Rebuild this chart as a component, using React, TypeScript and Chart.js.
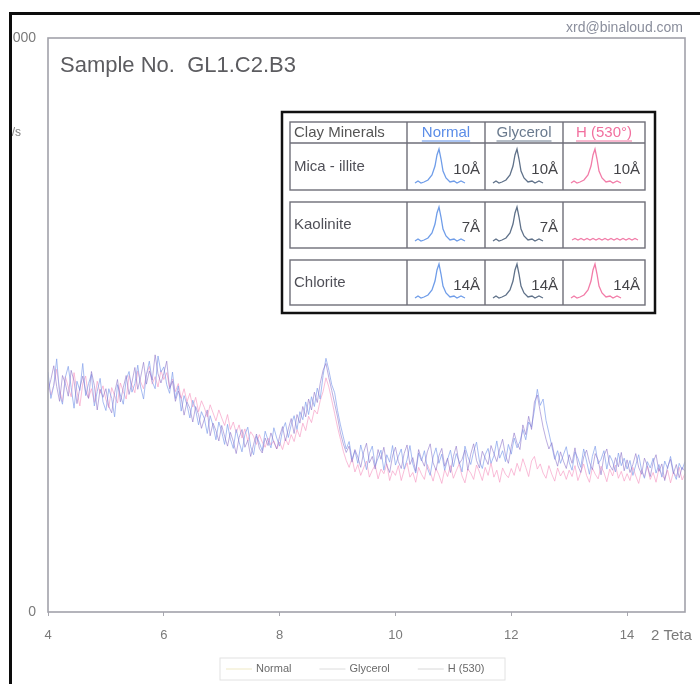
import { useEffect, useRef } from "react";
import { Chart, registerables } from "chart.js";

Chart.register(...registerables);

// 2θ scan: start angle and step (degrees)
const scanStart = 4;
const scanStep = 0.05;

const xTickValues = [4, 6, 8, 10, 12, 14];
const yTickValues = [0, 1000];

const seriesNames = ["Normal", "Glycerol", "H (530)"];

// counts per second (4.00 .. 15.00 by 0.05)
const normalCounts = [
  418, 372, 395, 441, 380, 362, 409, 428, 391, 355, 402, 386, 433, 377, 398, 414, 359, 384, 407, 366,
  351, 389, 372, 340, 396, 378, 362, 405, 419, 383, 398, 430, 392, 371, 414, 437, 401, 389, 446, 418,
  427, 396, 381, 418, 372, 394, 350, 377, 361, 338, 369, 352, 326, 349, 337, 311, 342, 325, 300, 331,
  314, 292, 327, 301, 285, 318, 296, 279, 309, 322, 288, 274, 306, 295, 281, 315, 299, 286, 321, 303,
  289, 317, 330, 304, 326, 342, 318, 349, 335, 366, 344, 375, 358, 390, 371, 412, 442, 421, 396, 382,
  351, 326, 305, 284, 297, 266, 281, 259, 291, 270, 248, 276, 289, 255, 268, 282, 247, 274, 261, 290,
  256, 271, 284, 249, 265, 290, 258, 242, 277, 263, 281, 251, 238, 270, 286, 259, 275, 247, 266, 282,
  253, 276, 262, 244, 289, 271, 257, 280, 296, 263, 250, 274, 285, 259, 272, 298, 268, 281, 262, 292,
  275, 303, 286, 297, 318, 300, 331, 322, 352, 388, 360, 371, 334, 312, 289, 266, 281, 259, 274, 288,
  261, 247, 279, 268, 252, 284, 263, 240, 271, 289, 258, 266, 281, 249, 273, 262, 244, 277, 255, 268,
  249, 264, 238, 256, 274, 247, 233, 262, 251, 268, 242, 257, 235, 263, 250, 271, 244, 231, 259, 248,
  262,
];

const glycerolCounts = [
  386, 405, 429, 393, 367, 412, 398, 376, 421, 402, 363, 390, 411, 384, 372, 419, 395, 352, 388, 374,
  389, 358, 347, 382, 405, 366, 391, 412, 379, 400, 426, 388, 409, 435, 397, 420, 404, 448, 415, 399,
  416, 437, 389, 402, 367, 385, 372, 343, 366, 355, 331, 358, 344, 320, 336, 352, 307, 329, 316, 298,
  325, 306, 289, 313, 297, 276, 304, 318, 287, 299, 271, 292, 310, 285, 277, 303, 290, 312, 296, 284,
  306, 323, 298, 319, 337, 311, 344, 329, 358, 340, 371, 352, 383, 365, 398, 421, 433, 408, 386, 363,
  340, 312, 293, 278, 289, 261, 283, 270, 252, 278, 294, 260, 271, 249, 283, 266, 287, 256, 243, 272,
  287, 262, 250, 276, 291, 257, 269, 245, 283, 266, 254, 279, 293, 260, 247, 272, 285, 254, 268, 243,
  271, 289, 258, 266, 282, 247, 275, 293, 264, 251, 280, 268, 257, 290, 276, 262, 284, 301, 273, 259,
  288, 312, 294, 283, 326, 309, 341, 318, 366, 378, 349, 322, 301, 284, 295, 270, 254, 279, 263, 250,
  274, 259, 286, 255, 243, 270, 282, 261, 248, 276, 265, 239, 272, 284, 256, 247, 269, 253, 278, 246,
  265, 243, 257, 276, 252, 240, 268, 255, 236, 261, 274, 245, 258, 229, 253, 266, 241, 257, 234, 252,
  245,
];

const heatedCounts = [
  401, 378, 395, 423, 388, 366, 410, 392, 375, 417, 384, 359, 398, 411, 373, 389, 365, 402, 381, 394,
  370, 356, 391, 377, 364, 399, 384, 371, 412, 395, 382, 420, 401, 389, 414, 428, 397, 410, 392, 421,
  405, 417, 392, 406, 384, 398, 372, 389, 366, 381, 357, 374, 349, 368, 356, 340, 361, 347, 333, 352,
  338, 325, 344, 318, 331, 312, 326, 303, 319, 298, 314, 306, 292, 309, 296, 287, 303, 291, 298, 284,
  296, 283, 302, 291, 309, 297, 318, 305, 329, 316, 341, 330, 352, 345, 368, 384, 408, 392, 369, 346,
  322, 301, 280, 264, 252, 268, 244, 257, 238, 251, 263, 235, 247, 256, 232, 249, 241, 258, 229, 246,
  238, 255, 229, 247, 260, 235, 243, 226, 252, 240, 231, 257, 244, 228, 250, 239, 224, 248, 236, 255,
  233, 246, 258, 237, 225, 249, 242, 231, 256, 244, 229, 252, 238, 260, 235, 247, 226, 251, 240, 234,
  250, 238, 259, 245, 267, 252, 236, 263, 271, 249, 258, 242, 233, 255, 240, 228, 251, 237, 246, 231,
  247, 236, 255, 229, 243, 258, 238, 226, 251, 240, 232, 254, 243, 227, 249, 237, 256, 233, 245, 228,
  241, 229, 252, 237, 224, 248, 235, 254, 231, 243, 226, 250, 239, 232, 247, 225, 244, 236, 252, 230,
  241,
];

// Clay mineral identification table
const tableHeaders = ["Clay Minerals", "Normal", "Glycerol", "H (530°)"];
const tableMinerals = ["Mica - illite", "Kaolinite", "Chlorite"];
const tableSpacings = ["10Å", "7Å", "14Å"];
const tablePeakPresent = [
  [true, true, true],
  [true, true, false],
  [true, true, true],
];

const lineColors = ["rgba(135,162,236,0.72)", "rgba(138,114,200,0.58)", "rgba(246,158,198,0.68)"];
const legendLineColors = ["#efe9c4", "#dcdcdc", "#d8d8d8"];
const headerColors = ["#555555", "#5b8de8", "#6a7a8e", "#f2709f"];
const miniPeakColors = ["#6f9de9", "#5f7189", "#f27ca8"];

const FONT = "'Liberation Sans', Arial, sans-serif";

function toPoints(values: number[]) {
  return values.map((v, i) => ({ x: scanStart + i * scanStep, y: v }));
}

const miniPeakShape = [
  [0, 0], [3, -2], [6, 0], [9, -1], [13, -3], [17, -8], [20, -17], [22, -28], [24, -34],
  [26, -24], [28, -12], [31, -5], [35, -1], [39, -2], [42, 0], [46, -2], [50, 0],
];

function drawMiniPeak(ctx: CanvasRenderingContext2D, x0: number, y0: number, color: string) {
  ctx.save();
  ctx.strokeStyle = color;
  ctx.lineWidth = 1.3;
  ctx.beginPath();
  miniPeakShape.forEach(([dx, dy], i) => {
    if (i === 0) ctx.moveTo(x0 + dx, y0 + dy);
    else ctx.lineTo(x0 + dx, y0 + dy);
  });
  ctx.stroke();
  ctx.restore();
}

function drawFlatLine(ctx: CanvasRenderingContext2D, x0: number, y0: number, len: number, color: string) {
  ctx.save();
  ctx.strokeStyle = color;
  ctx.lineWidth = 1.2;
  ctx.beginPath();
  for (let d = 0; d <= len; d += 3) {
    const y = y0 + (Math.round(d / 3) % 2 === 0 ? 0 : -1.5);
    if (d === 0) ctx.moveTo(x0 + d, y);
    else ctx.lineTo(x0 + d, y);
  }
  ctx.stroke();
  ctx.restore();
}

const decorPlugin = {
  id: "decor",
  afterDraw(chart: any) {
    const ctx: CanvasRenderingContext2D = chart.ctx;
    const a = chart.chartArea;
    ctx.save();

    // plot frame
    ctx.strokeStyle = "#a2a2aa";
    ctx.lineWidth = 1.6;
    ctx.strokeRect(a.left, a.top, a.right - a.left, a.bottom - a.top);

    // title
    ctx.fillStyle = "#5c5c60";
    ctx.font = `22px ${FONT}`;
    ctx.textBaseline = "middle";
    ctx.textAlign = "left";
    ctx.fillText("Sample No.  GL1.C2.B3", 60, 66);

    // email
    ctx.fillStyle = "#8a8e9c";
    ctx.font = `14px ${FONT}`;
    ctx.textAlign = "right";
    ctx.fillText("xrd@binaloud.com", 683, 28);

    // y unit label (partly clipped by the frame)
    ctx.fillStyle = "#808080";
    ctx.font = `12px ${FONT}`;
    ctx.textAlign = "right";
    ctx.fillText("Counts/s", 21, 133);

    // x axis title
    ctx.fillStyle = "#7a7a7a";
    ctx.font = `15px ${FONT}`;
    ctx.textAlign = "left";
    ctx.fillText("2 Teta", 651, 636);

    // ---------- table ----------
    ctx.fillStyle = "#ffffff";
    ctx.fillRect(282, 112, 373, 201);
    ctx.strokeStyle = "#111111";
    ctx.lineWidth = 2.5;
    ctx.strokeRect(282, 112, 373, 201);

    const cols = [290, 407, 485, 563, 645];
    const boxes = [
      [122, 190],
      [202, 248],
      [260, 305],
    ];
    ctx.strokeStyle = "#6e6e78";
    ctx.lineWidth = 1.4;
    boxes.forEach(([t, b]) => {
      ctx.strokeRect(cols[0], t, cols[4] - cols[0], b - t);
      for (let c = 1; c < 4; c++) {
        ctx.beginPath();
        ctx.moveTo(cols[c], t);
        ctx.lineTo(cols[c], b);
        ctx.stroke();
      }
    });
    ctx.beginPath();
    ctx.moveTo(cols[0], 143);
    ctx.lineTo(cols[4], 143);
    ctx.stroke();

    // headers
    ctx.font = `15px ${FONT}`;
    ctx.textBaseline = "middle";
    tableHeaders.forEach((h, i) => {
      ctx.fillStyle = headerColors[i];
      if (i === 0) {
        ctx.textAlign = "left";
        ctx.fillText(h, cols[0] + 4, 133);
      } else {
        ctx.textAlign = "center";
        const cx = (cols[i] + cols[i + 1]) / 2;
        ctx.fillText(h, cx, 133);
        const w = ctx.measureText(h).width;
        ctx.strokeStyle = headerColors[i];
        ctx.lineWidth = 1;
        ctx.beginPath();
        ctx.moveTo(cx - w / 2, 141);
        ctx.lineTo(cx + w / 2, 141);
        ctx.stroke();
      }
    });

    // rows
    const rowTops = [143, 202, 260];
    const rowBottoms = [190, 248, 305];
    tableMinerals.forEach((m, r) => {
      const t = rowTops[r];
      const b = rowBottoms[r];
      const mid = (t + b) / 2;
      ctx.fillStyle = "#505058";
      ctx.font = `15px ${FONT}`;
      ctx.textAlign = "left";
      ctx.fillText(m, cols[0] + 4, mid);
      for (let c = 0; c < 3; c++) {
        const cl = cols[c + 1];
        const cr = cols[c + 2];
        if (tablePeakPresent[r][c]) {
          drawMiniPeak(ctx, cl + 8, b - 7, miniPeakColors[c]);
          ctx.fillStyle = "#444448";
          ctx.font = `15px ${FONT}`;
          ctx.textAlign = "right";
          ctx.fillText(tableSpacings[r], cr - 5, mid + 3);
        } else {
          drawFlatLine(ctx, cl + 9, b - 8, cr - cl - 14, miniPeakColors[c]);
        }
      }
    });

    // ---------- legend ----------
    const lx = 220;
    const ly = 658;
    ctx.strokeStyle = "#e2e2e2";
    ctx.lineWidth = 1;
    ctx.strokeRect(lx, ly, 285, 22);
    ctx.font = `11px ${FONT}`;
    ctx.textAlign = "left";
    ctx.textBaseline = "middle";
    let cx = lx + 6;
    chart.data.datasets.forEach((ds: any) => {
      const idx = seriesNames.indexOf(ds.label);
      ctx.strokeStyle = legendLineColors[idx];
      ctx.beginPath();
      ctx.moveTo(cx, ly + 11);
      ctx.lineTo(cx + 26, ly + 11);
      ctx.stroke();
      ctx.fillStyle = "#6a6a6a";
      ctx.fillText(ds.label, cx + 30, ly + 11);
      cx += 30 + ctx.measureText(ds.label).width + 28;
    });

    // ---------- outer scan frame ----------
    ctx.fillStyle = "#ffffff";
    ctx.fillRect(0, 0, 9, chart.height);
    ctx.fillRect(0, 0, chart.width, 11);
    ctx.fillStyle = "#0c0c0c";
    ctx.fillRect(9, 12, 3, chart.height - 12);
    ctx.fillRect(9, 12, chart.width - 9, 3);

    ctx.restore();
  },
};

export default function App() {
  const canvasRef = useRef<HTMLCanvasElement | null>(null);

  useEffect(() => {
    if (!canvasRef.current) return;
    const chart = new Chart(canvasRef.current, {
      type: "line",
      data: {
        datasets: [
          {
            label: seriesNames[0],
            data: toPoints(normalCounts),
            borderColor: lineColors[0],
            borderWidth: 1,
            pointRadius: 0,
            tension: 0,
            order: 1,
          },
          {
            label: seriesNames[1],
            data: toPoints(glycerolCounts),
            borderColor: lineColors[1],
            borderWidth: 1,
            pointRadius: 0,
            tension: 0,
            order: 0,
          },
          {
            label: seriesNames[2],
            data: toPoints(heatedCounts),
            borderColor: lineColors[2],
            borderWidth: 1,
            pointRadius: 0,
            tension: 0,
            order: 2,
          },
        ],
      },
      options: {
        animation: false,
        responsive: false,
        maintainAspectRatio: false,
        layout: { padding: { top: 38, right: 15, left: 0, bottom: 0 } },
        plugins: {
          legend: { display: false },
          tooltip: { enabled: false },
          title: { display: false },
        },
        scales: {
          x: {
            type: "linear",
            min: 4,
            max: 15,
            afterBuildTicks: (s: any) => {
              s.ticks = xTickValues.map((v) => ({ value: v }));
            },
            afterFit: (s: any) => {
              s.height = 72;
            },
            grid: { display: true, drawOnChartArea: false, tickLength: 4, color: "#a8a8b0" },
            border: { display: false },
            ticks: {
              color: "#7a7a7a",
              font: { size: 13, family: FONT },
              padding: 12,
              maxRotation: 0,
            },
          },
          y: {
            min: 0,
            max: 1000,
            afterBuildTicks: (s: any) => {
              s.ticks = yTickValues.map((v) => ({ value: v }));
            },
            afterFit: (s: any) => {
              s.width = 48;
            },
            grid: { display: false, drawTicks: false },
            border: { display: false },
            ticks: {
              color: "#7a7a7a",
              font: { size: 14, family: FONT },
              padding: 12,
              callback: (v: any) => String(v),
            },
          },
        },
      },
      plugins: [decorPlugin],
    });
    return () => chart.destroy();
  }, []);

  return (
    <div style={{ position: "fixed", left: 0, top: 0, width: 700, height: 684, background: "#fff" }}>
      <canvas ref={canvasRef} width={700} height={684} style={{ width: 700, height: 684, display: "block" }} />
    </div>
  );
}
